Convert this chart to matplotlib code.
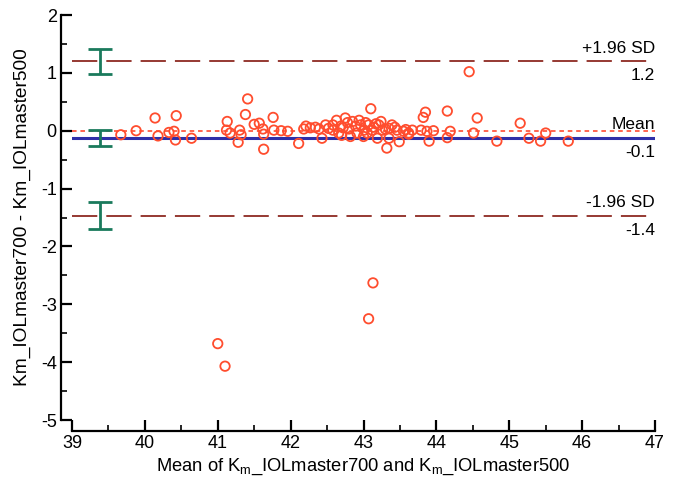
import matplotlib
matplotlib.use("Agg")
import matplotlib.pyplot as plt
from matplotlib.ticker import MultipleLocator

plt.rcParams['font.family'] = ['Liberation Sans', 'DejaVu Sans']
plt.rcParams['mathtext.fontset'] = 'custom'
plt.rcParams['mathtext.rm'] = 'Liberation Sans'
plt.rcParams['axes.unicode_minus'] = False

# mean of the two devices (x) and difference (y)
mean_vals = [39.67, 39.88, 40.14, 40.18, 40.43, 40.33, 40.40, 40.42, 40.64,
             41.41, 41.38, 41.13, 41.12, 41.17, 41.30, 41.32, 41.28, 41.50, 41.57,
             41.62, 41.63, 41.63, 41.76, 41.77, 41.87, 41.96, 42.11, 42.18, 42.21, 42.27,
             42.39, 42.48, 42.58, 42.58, 42.69, 42.75, 42.78, 42.85, 42.89, 42.96,
             43.01, 43.07, 43.12, 43.17, 43.21, 43.26, 43.35, 43.39, 43.46, 43.55,
             43.62, 43.67, 42.43, 42.66, 42.82, 42.91, 43.05, 43.19, 43.35, 43.49,
             43.62, 43.32, 43.10,
             42.34, 42.52, 42.63, 42.72, 42.80, 42.94, 43.03, 43.14, 43.24, 43.30,
             43.43, 43.58, 42.70, 43.00,
             43.85, 43.82, 44.15, 44.56, 45.15, 43.79, 43.87, 43.96, 43.90, 44.19,
             44.15, 44.51, 44.83, 45.27, 45.43, 45.50, 45.81,
             41.00, 41.10, 43.07, 43.13, 44.45]
diff_vals = [-0.07, 0.00, 0.22, -0.09, 0.26, -0.03, -0.01, -0.16, -0.13,
             0.55, 0.28, 0.16, 0.01, -0.04, 0.01, -0.07, -0.20, 0.11, 0.13,
             0.03, -0.06, -0.32, 0.23, 0.01, 0.00, -0.01, -0.22, 0.03, 0.08, 0.05,
             0.03, 0.10, 0.10, 0.01, 0.08, 0.22, 0.14, 0.16, 0.08, 0.10,
             0.01, 0.10, 0.01, 0.12, 0.10, 0.01, 0.04, 0.10, 0.01, -0.01,
             -0.04, 0.01, -0.13, -0.04, -0.10, -0.04, -0.04, -0.13, -0.13, -0.19,
             -0.06, -0.30, 0.38,
             0.06, 0.04, 0.18, 0.05, 0.03, 0.18, 0.14, 0.06, 0.16, 0.03,
             0.06, 0.02, -0.08, -0.10,
             0.32, 0.23, 0.34, 0.22, 0.13, 0.01, -0.01, 0.00, -0.18, -0.01,
             -0.12, -0.04, -0.18, -0.13, -0.18, -0.04, -0.18,
             -3.68, -4.07, -3.25, -2.63, 1.02]

mean_diff = -0.125
upper_loa = 1.2
lower_loa = -1.47
ci_x = 39.38
ci_low = [0.98, -0.27, -1.70]
ci_high = [1.42, 0.02, -1.24]
line_labels = [("+1.96 SD", "1.2", upper_loa), ("Mean", "-0.1", mean_diff),
               ("-1.96 SD", "-1.4", lower_loa)]

fig = plt.figure(figsize=(6.74, 4.97), dpi=100)
ax = fig.add_axes([72 / 674, 77 / 497, 583 / 674, 405 / 497])

ax.axhline(0, color='#ff3b1f', lw=1.1, ls=(0, (3, 2.5)), zorder=2)
ax.axhline(mean_diff, color='#2f2fa8', lw=2.2, zorder=2)
for y in (upper_loa, lower_loa):
    ax.axhline(y, color='#8e2a22', lw=1.3, ls=(0, (14, 5)), zorder=2)

for lo, hi in zip(ci_low, ci_high):
    c = (lo + hi) / 2
    ax.errorbar([ci_x], [c], yerr=[[c - lo], [hi - c]], fmt='none',
                ecolor='#1a7a5c', elinewidth=2.0, capsize=8.3, capthick=2.0, zorder=3)

ax.scatter(mean_vals, diff_vals, s=46, facecolors='none', edgecolors='#ff4d2e',
           linewidths=1.3, zorder=4)

for top, bottom, y in line_labels:
    ax.annotate(top, (47, y), xytext=(0, 4), textcoords='offset points',
                ha='right', va='bottom', fontsize=12.5)
    ax.annotate(bottom, (47, y), xytext=(0, -5), textcoords='offset points',
                ha='right', va='top', fontsize=12.5)

ax.set_xlim(39, 47)
ax.set_ylim(-5, 2)
ax.xaxis.set_major_locator(MultipleLocator(1))
ax.xaxis.set_minor_locator(MultipleLocator(0.5))
ax.yaxis.set_major_locator(MultipleLocator(1))
ax.yaxis.set_minor_locator(MultipleLocator(0.5))

for side in ('top', 'right'):
    ax.spines[side].set_visible(False)
for side in ('left', 'bottom'):
    ax.spines[side].set_position(('outward', 8))
    ax.spines[side].set_linewidth(1.6)

ax.tick_params(which='major', direction='in', length=8, width=1.6, labelsize=13, pad=3)
ax.tick_params(which='minor', direction='in', length=4, width=1.2)

ax.set_xlabel(r'Mean of K$_{\mathrm{m}}$_IOLmaster700 and K$_{\mathrm{m}}$_IOLmaster500',
              fontsize=13.2, labelpad=3)
ax.set_ylabel('Km_IOLmaster700 - Km_IOLmaster500', fontsize=13.8, labelpad=7)

fig.savefig('out.png', dpi=100)
